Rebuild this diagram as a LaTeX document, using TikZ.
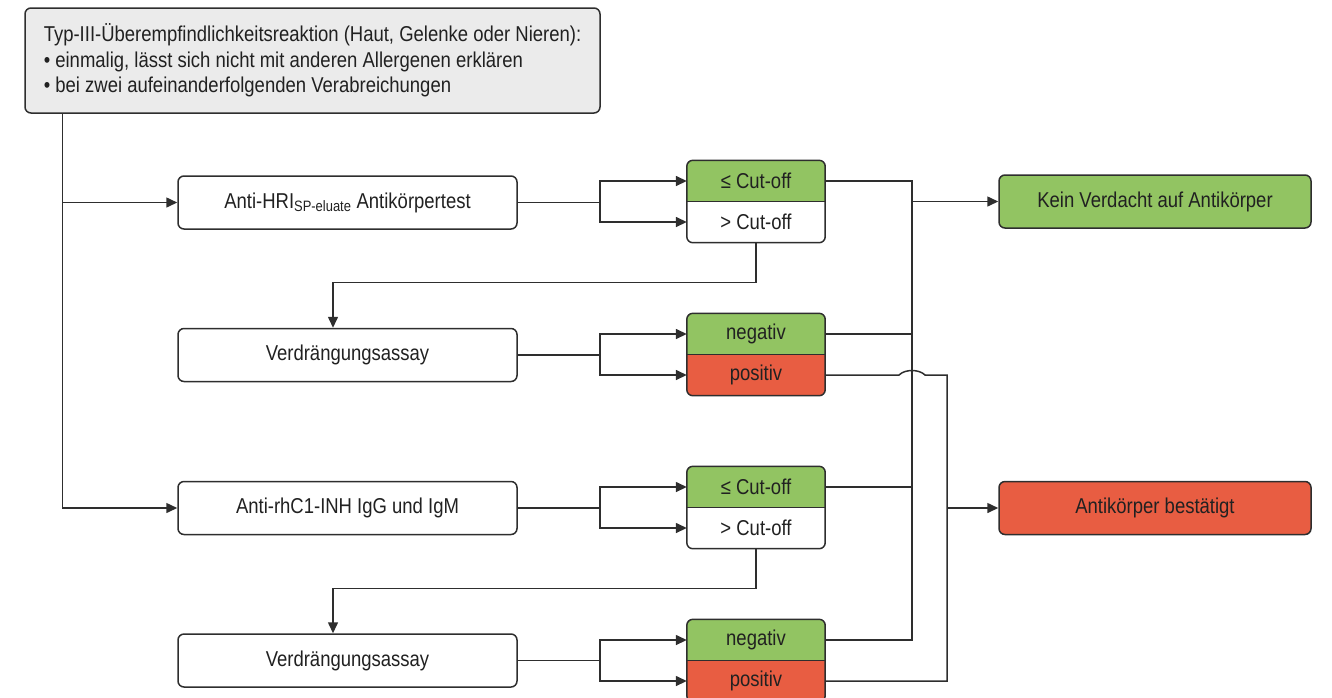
\documentclass[tikz,border=0pt]{standalone}
\usepackage{fontspec}
\setmainfont{Liberation Sans}[FakeStretch=0.86]
\usetikzlibrary{arrows.meta,calc,positioning,backgrounds}
\definecolor{mgreen}{HTML}{92C462}
\definecolor{mred}{HTML}{E85D42}
\definecolor{mgrey}{HTML}{EBEBEB}
\definecolor{mline}{HTML}{2E2E2E}
\tikzstyle{l1}=[line width=1.5pt, draw=mline]
\tikzstyle{arr}=[l1, -{Triangle[length=11pt,width=10pt]}]
\tikzstyle{testbox}=[rectangle, l1, rounded corners=6pt, minimum width=339pt, minimum height=53pt, fill=white]
\tikzstyle{outbox}=[testbox, minimum width=312pt]
\tikzstyle{hdr}=[testbox, fill=mgrey, minimum width=575pt, minimum height=105pt, align=left]
\tikzstyle{half}=[rectangle, minimum width=138pt, minimum height=41pt, inner sep=0pt]
\newcommand{\pairfill}[4]{%
    \begin{scope}[on background layer]
        \begin{scope}
            \clip[rounded corners=6pt] (#1.north west) rectangle (#2.south east);
            \fill[#3] (#1.north west) rectangle (#1.south east);
            \fill[#4] (#2.north west) rectangle (#2.south east);
        \end{scope}
        \draw[l1, rounded corners=6pt] (#1.north west) rectangle (#2.south east);
        \draw[l1] (#1.south west) -- (#1.south east);
    \end{scope}}

\begin{document}
\begin{tikzpicture}[x=1pt, y=-1pt, every node/.style={text=black!87, font=\fontsize{21.5}{25.5}\selectfont}]
    \clip (0,0) rectangle (1332,697);

    \node (crit) [hdr] at (312.5,60.5) {Typ-III-Überempfindlichkeitsreaktion (Haut, Gelenke oder Nieren):\\
        • einmalig, lässt sich nicht mit anderen Allergenen erklären\\
        • bei zwei aufeinanderfolgenden Verabreichungen};

    % tests
    \node (hri) [testbox] at (347.5,202.5) {Anti-HRI\textsubscript{SP-eluate} Antikörpertest};
    \node (vd1) [testbox] at (347.5,355) {Verdrängungsassay};
    \node (rhc) [testbox] at (347.5,508) {Anti-rhC1-INH IgG und IgM};
    \node (vd2) [testbox] at (347.5,660.5) {Verdrängungsassay};

    % results
    \node (u1) [half] at (756,181) {≤ Cut-off};
    \node (l1) [half] at (756,222) {> Cut-off};
    \node (u2) [half] at (756,334) {negativ};
    \node (l2) [half] at (756,375) {positiv};
    \node (u3) [half] at (756,487) {≤ Cut-off};
    \node (l3) [half] at (756,528) {> Cut-off};
    \node (u4) [half] at (756,640) {negativ};
    \node (l4) [half] at (756,681) {positiv};
    \pairfill{u1}{l1}{mgreen}{white}
    \pairfill{u2}{l2}{mgreen}{mred}
    \pairfill{u3}{l3}{mgreen}{white}
    \pairfill{u4}{l4}{mgreen}{mred}

    \node (ok) [outbox, fill=mgreen] at (1155,201.5) {Kein Verdacht auf Antikörper};
    \node (bad) [outbox, fill=mred] at (1155,508) {Antikörper bestätigt};

    \coordinate (gx) at (912,0);
    \coordinate (rx) at (947,0);

    % left trunk
    \draw[arr] ([xshift=38pt]crit.south west) |- (hri.west);
    \draw[arr] ([xshift=38pt]crit.south west) |- (rhc.west);

    % forks
    \foreach \t/\u/\l in {hri/u1/l1, vd1/u2/l2, rhc/u3/l3, vd2/u4/l4} {
        \draw[l1] (\t.east) -- ++(82,0) coordinate (f);
        \draw[arr] (f) |- (\u.west);
        \draw[arr] (f) |- (\l.west);
    }

    % > Cut-off to Verdraengungsassay
    \draw[arr] (l1.south) -- ++(0,40) -| ([xshift=-14.5pt]vd1.north);
    \draw[arr] (l3.south) -- ++(0,40) -| ([xshift=-14.5pt]vd2.north);

    % green bus
    \draw[l1] (u1.east) -| (u4.east -| gx) -- (u4.east);
    \draw[l1] (u2.east) -- (u2.east -| gx);
    \draw[l1] (u3.east) -- (u3.east -| gx);
    \draw[arr] (ok.west -| gx) -- (ok.west);

    % red bus
    \draw[l1] (l2.east) -- ($(l2.east -| gx)+(-13,0)$) .. controls +(6,-6) and +(-6,-6) .. ($(l2.east -| gx)+(13,0)$) -| (l4.east -| rx) -- (l4.east);
    \draw[arr] (bad.west -| rx) -- (bad.west);
\end{tikzpicture}
\end{document}
